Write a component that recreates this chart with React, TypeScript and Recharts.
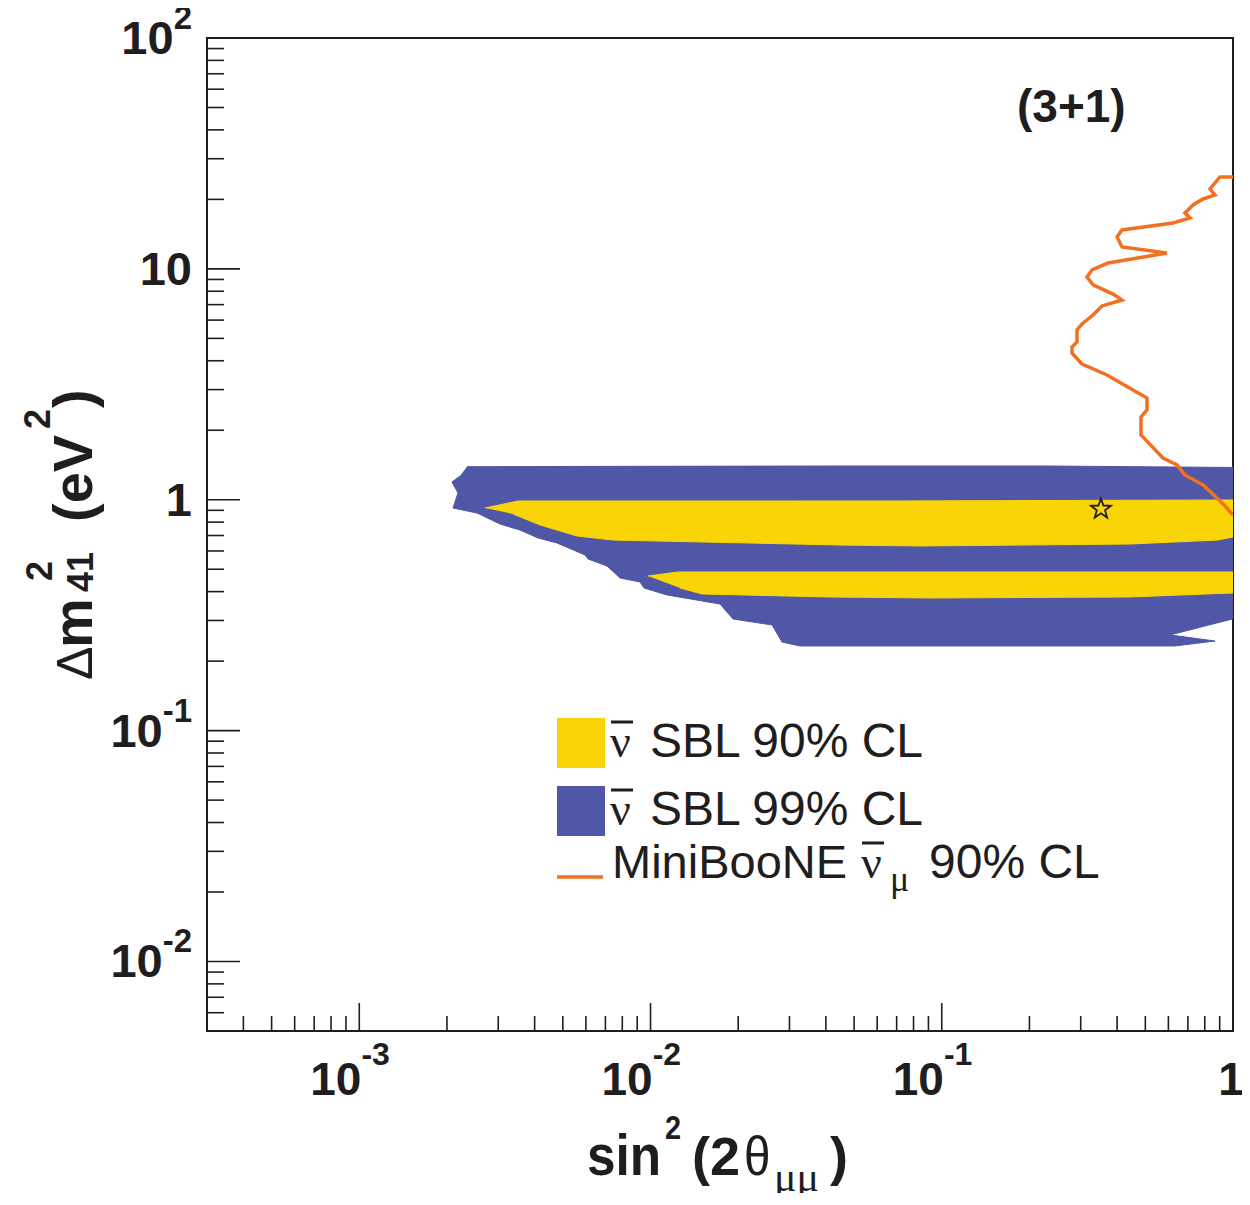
import React from 'react'
import { ScatterChart, Scatter, XAxis, YAxis, Legend, ReferenceArea } from 'recharts'

// contour vertices: x = sin^2(2theta_mumu), y = dm^2_41 (eV^2)
const sbl99X = [0.002343, 0.00671, 0.0413, 0.2352, 1.0, 1.0, 0.995, 0.6075, 0.8673, 0.6322, 0.0326, 0.02828, 0.02613, 0.0192, 0.01732, 0.01139, 0.0095, 0.0092, 0.00786, 0.00709, 0.0061, 0.00596, 0.00477, 0.00411, 0.00356, 0.00304, 0.002536, 0.002098, 0.002182, 0.002081, 0.002217]
const sbl99Y = [1.39, 1.395, 1.4, 1.4, 1.38, 0.368, 0.3044, 0.2596, 0.2444, 0.2326, 0.2326, 0.242, 0.2869, 0.3044, 0.3535, 0.3869, 0.4148, 0.4403, 0.4582, 0.5165, 0.5537, 0.5762, 0.6498, 0.6831, 0.7396, 0.7852, 0.8763, 0.921, 1.07, 1.194, 1.267]

const sbl90UpperX = [0.002701, 0.003507, 0.0719, 1.0, 1.0, 0.888, 0.4428, 0.0842, 0.04473, 0.00743, 0.00559, 0.004174, 0.003372]
const sbl90UpperY = [0.921, 0.9877, 0.988, 0.998, 0.69, 0.669, 0.643, 0.6306, 0.6368, 0.669, 0.6966, 0.7775, 0.8675]

const sbl90LowerX = [0.0098, 0.01243, 1.0, 1.0, 0.4428, 0.0911, 0.0413, 0.01502, 0.01263]
const sbl90LowerY = [0.4675, 0.4865, 0.4865, 0.3947, 0.3792, 0.3754, 0.3792, 0.3907, 0.4148]

const mbX = [1.0, 0.902, 0.834, 0.867, 0.789, 0.729, 0.684, 0.712, 0.622, 0.4158, 0.3997, 0.4158, 0.5935, 0.3722, 0.328, 0.3152, 0.3307, 0.3873, 0.4158, 0.3549, 0.3307, 0.3031, 0.2913, 0.2913, 0.28, 0.28, 0.3031, 0.3693, 0.5066, 0.5066, 0.4831, 0.4831, 0.5748, 0.6423, 0.684, 0.789, 0.8813, 0.939, 1.0]
const mbY = [25.0, 25.0, 22.18, 20.89, 20.08, 18.91, 17.46, 16.61, 15.8, 14.74, 13.75, 12.44, 11.72, 10.6, 9.89, 9.22, 8.52, 7.78, 7.33, 6.91, 6.31, 5.77, 5.44, 4.82, 4.59, 4.32, 3.87, 3.47, 2.76, 2.45, 2.28, 1.909, 1.517, 1.414, 1.28, 1.158, 1.018, 0.94, 0.859]

const bestFitX = [0.352]
const bestFitY = [0.912]

const xMajor = [1e-3, 1e-2, 1e-1, 1]
const xMajorLabels = [['10', '-3'], ['10', '-2'], ['10', '-1'], ['1', '']]
const xMinor = [4e-4, 5e-4, 6e-4, 7e-4, 8e-4, 9e-4, 2e-3, 3e-3, 4e-3, 5e-3, 6e-3, 7e-3, 8e-3, 9e-3, 0.02, 0.03, 0.04, 0.05, 0.06, 0.07, 0.08, 0.09, 0.2, 0.3, 0.4, 0.5, 0.6, 0.7, 0.8, 0.9]
const yMajor = [0.01, 0.1, 1, 10, 100]
const yMajorLabels = [['10', '-2'], ['10', '-1'], ['1', ''], ['10', ''], ['10', '2']]
const yMinor = [0.006, 0.007, 0.008, 0.009, 0.02, 0.03, 0.04, 0.05, 0.06, 0.07, 0.08, 0.09, 0.2, 0.3, 0.4, 0.5, 0.6, 0.7, 0.8, 0.9, 2, 3, 4, 5, 6, 7, 8, 9, 20, 30, 40, 50, 60, 70, 80, 90]

const YELLOW = '#f9d508'
const BLUE = '#5057a6'
const ORANGE = '#f36f21'
const INK = '#1f1d1e'
const SANS = '"Liberation Sans", Arial, Helvetica, sans-serif'
const SERIF = '"Liberation Serif", "Times New Roman", serif'

const W = 1234
const H = 1185

const zip = (xs: number[], ys: number[]) => xs.map((x, i) => ({ x, y: ys[i] }))

const NoDot = () => <g />

const StarShape = (p: any) => {
  const { cx, cy } = p
  const pts: string[] = []
  for (let k = 0; k < 10; k++) {
    const r = k % 2 === 0 ? 10.5 : 4.3
    const a = -Math.PI / 2 + (k * Math.PI) / 5
    pts.push(`${cx + r * Math.cos(a)},${cy + r * Math.sin(a)}`)
  }
  return <polygon points={pts.join(' ')} fill="none" stroke={INK} strokeWidth={1.8} />
}

const XTick = (props: any) => {
  const { x, y, payload } = props
  const i = xMajor.indexOf(payload.value)
  const len = i >= 0 ? 28 : 15
  return (
    <g>
      <line x1={x} y1={y} x2={x} y2={y - len} stroke={INK} strokeWidth={1.6} />
      {i >= 0 && xMajorLabels[i][1] !== '' && (
        <text x={x - 49} y={y + 64} fill={INK} fontFamily={SANS} fontWeight="bold" fontSize={46}>
          {xMajorLabels[i][0]}
          <tspan dy={-30} fontSize={32}>{xMajorLabels[i][1]}</tspan>
        </text>
      )}
      {i >= 0 && xMajorLabels[i][1] === '' && (
        <text x={x - 2} y={y + 64} fill={INK} fontFamily={SANS} fontWeight="bold" fontSize={46} textAnchor="middle">
          {xMajorLabels[i][0]}
        </text>
      )}
    </g>
  )
}

const YTick = (props: any) => {
  const { x, y, payload } = props
  const i = yMajor.indexOf(payload.value)
  const len = i >= 0 ? 33 : 17
  return (
    <g>
      <line x1={x} y1={y} x2={x + len} y2={y} stroke={INK} strokeWidth={1.6} />
      {i >= 0 && (
        <text x={x - 15} y={y + 16} fill={INK} fontFamily={SANS} fontWeight="bold" fontSize={47} textAnchor="end">
          {yMajorLabels[i][0]}
          {yMajorLabels[i][1] !== '' && (
            <tspan dy={-25} fontSize={33}>{yMajorLabels[i][1]}</tspan>
          )}
        </text>
      )}
    </g>
  )
}

const LegendBox = () => (
  <svg width={600} height={210} style={{ overflow: 'visible' }}>
    <rect x={9} y={10} width={48} height={50} fill={YELLOW} />
    <rect x={9} y={78} width={48} height={50} fill={BLUE} />
    <line x1={9} x2={55} y1={169} y2={169} stroke={ORANGE} strokeWidth={3.5} />
    <g fill={INK}>
      <text x={62} y={49} fontFamily={SERIF} fontSize={46}>ν</text>
      <line x1={63} x2={85} y1={14} y2={14} stroke={INK} strokeWidth={3} />
      <text x={102} y={49} fontFamily={SANS} fontSize={48}>SBL 90% CL</text>
      <text x={62} y={117} fontFamily={SERIF} fontSize={46}>ν</text>
      <line x1={63} x2={85} y1={82} y2={82} stroke={INK} strokeWidth={3} />
      <text x={102} y={117} fontFamily={SANS} fontSize={48}>SBL 99% CL</text>
      <text x={64} y={170} fontFamily={SANS} fontSize={47}>MiniBooNE</text>
      <text x={313} y={170} fontFamily={SERIF} fontSize={46}>ν</text>
      <line x1={314} x2={336} y1={135} y2={135} stroke={INK} strokeWidth={3} />
      <text x={342} y={183} fontFamily={SERIF} fontSize={36}>μ</text>
      <text x={381} y={170} fontFamily={SANS} fontSize={48}>90% CL</text>
    </g>
  </svg>
)

const narrow = (x: number, y: number, s = 0.85) => `translate(${x},${y}) scale(${s},1)`

const Annotations = () => (
  <svg
    width={W}
    height={H}
    style={{ position: 'absolute', left: 0, top: 0, pointerEvents: 'none', overflow: 'visible' }}
  >
    <text x={1009} y={114} fill={INK} fontFamily={SANS} fontWeight="bold" fontSize={46}>(3+1)</text>

    {/* x title: sin^2(2 theta_mumu) */}
    <g fill={INK} fontFamily={SANS}>
      <text transform={narrow(579, 1167, 0.9)} fontWeight="bold" fontSize={57}>sin</text>
      <text transform={narrow(657, 1131)} fontWeight="bold" fontSize={34}>2</text>
      <text x={684} y={1167} fontWeight="bold" fontSize={54}>(2</text>
      <text transform={narrow(736, 1167)} fontSize={56}>θ</text>
      <text x={766} y={1183} fontFamily={SERIF} fontSize={42}>μμ</text>
      <text x={822} y={1167} fontWeight="bold" fontSize={54}>)</text>
    </g>

    {/* y title: dm^2_41 (eV^2) */}
    <g transform="translate(84,672) rotate(-90)" fill={INK} fontFamily={SANS}>
      <text x={0} y={0} fontSize={50}>Δ</text>
      <text x={32} y={0} fontWeight="bold" fontSize={56}>m</text>
      <text x={99} y={-40} fontWeight="bold" fontSize={36}>2</text>
      <text x={88} y={1} fontWeight="bold" fontSize={36}>41</text>
      <text x={158} y={0} fontWeight="bold" fontSize={56}>(eV</text>
      <text x={251} y={-42} fontWeight="bold" fontSize={36}>2</text>
      <text x={272} y={0} fontWeight="bold" fontSize={56}>)</text>
    </g>
  </svg>
)

export default function App() {
  return (
    <div style={{ position: 'relative', width: W, height: H }}>
      <style>{'.recharts-surface{overflow:visible}'}</style>
      <ScatterChart width={W} height={H} margin={{ top: 30, right: 9, bottom: 0, left: 0 }}>
        <XAxis
          type="number"
          dataKey="x"
          scale="log"
          domain={[3e-4, 1]}
          allowDataOverflow
          ticks={[...xMinor, ...xMajor]}
          interval={0}
          tickSize={0}
          tickMargin={0}
          tickLine={false}
          axisLine={{ stroke: INK, strokeWidth: 2 }}
          height={162}
          tick={(p: any) => <XTick {...p} />}
        />
        <YAxis
          type="number"
          dataKey="y"
          scale="log"
          domain={[5e-3, 100]}
          allowDataOverflow
          ticks={[...yMinor, ...yMajor]}
          interval={0}
          tickSize={0}
          tickMargin={0}
          tickLine={false}
          axisLine={{ stroke: INK, strokeWidth: 2 }}
          width={199}
          tick={(p: any) => <YTick {...p} />}
        />
        <Scatter
          data={zip(sbl99X, sbl99Y)}
          shape={NoDot}
          line={{ fill: BLUE, stroke: BLUE, strokeWidth: 1 }}
          lineType="joint"
          isAnimationActive={false}
        />
        <Scatter
          data={zip(sbl90UpperX, sbl90UpperY)}
          shape={NoDot}
          line={{ fill: YELLOW, stroke: YELLOW, strokeWidth: 1 }}
          lineType="joint"
          isAnimationActive={false}
        />
        <Scatter
          data={zip(sbl90LowerX, sbl90LowerY)}
          shape={NoDot}
          line={{ fill: YELLOW, stroke: YELLOW, strokeWidth: 1 }}
          lineType="joint"
          isAnimationActive={false}
        />
        <Scatter
          data={zip(mbX, mbY)}
          shape={NoDot}
          line={{ fill: 'none', stroke: ORANGE, strokeWidth: 3.5 }}
          lineType="joint"
          isAnimationActive={false}
        />
        <Scatter data={zip(bestFitX, bestFitY)} shape={StarShape} isAnimationActive={false} />
        <ReferenceArea
          x1={3e-4}
          x2={1}
          y1={5e-3}
          y2={100}
          fill="none"
          fillOpacity={0}
          stroke={INK}
          strokeWidth={2}
          ifOverflow="visible"
        />
        <Legend
          layout="vertical"
          align="center"
          verticalAlign="middle"
          content={() => <LegendBox />}
          wrapperStyle={{ position: 'absolute', left: 540, top: 700, width: 600, height: 210 }}
        />
      </ScatterChart>
      <Annotations />
    </div>
  )
}
